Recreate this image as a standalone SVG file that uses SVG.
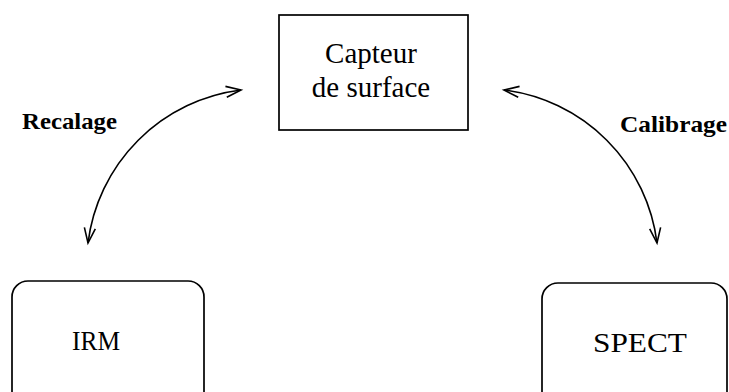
<svg xmlns="http://www.w3.org/2000/svg" width="729" height="392" viewBox="0 0 729 392">
<style>
.box{fill:#fff;stroke:#000;stroke-width:1.7}
.t{font-family:"Liberation Serif","Times New Roman",serif;fill:#000;text-anchor:middle}
.lbl{font-family:"Liberation Serif","Times New Roman",serif;font-weight:bold;fill:#000;font-size:23px}
.arc{fill:none;stroke:#000;stroke-width:1.6;marker-start:url(#v);marker-end:url(#v)}
</style>
<defs>
<marker id="v" markerUnits="userSpaceOnUse" markerWidth="20" markerHeight="16" viewBox="-16 -8 20 16" refX="0" refY="0" orient="auto-start-reverse">
<path d="M -15,-5.5 L 0,0 L -15,5.5" fill="none" stroke="#000" stroke-width="1.6"/>
</marker>
</defs>
<rect width="729" height="392" fill="#fff"/>
<g id="connectors">
<path class="arc" d="M 88,243 A 176 176 0 0 1 241,90"/>
<path class="arc" d="M 504,90 A 176 176 0 0 1 657,243"/>
<text class="lbl" x="22" y="129" textLength="95" lengthAdjust="spacingAndGlyphs">Recalage</text>
<text class="lbl" x="620" y="132" textLength="107" lengthAdjust="spacingAndGlyphs">Calibrage</text>
</g>
<g id="capteur">
<rect class="box" x="279" y="15" width="189" height="115"/>
<text class="t" x="371" y="63" font-size="29">Capteur</text>
<text class="t" x="371" y="97" font-size="29">de surface</text>
</g>
<g id="irm">
<rect class="box" x="12" y="281" width="192" height="140" rx="16"/>
<text class="t" x="96" y="350" font-size="27" textLength="48" lengthAdjust="spacingAndGlyphs">IRM</text>
</g>
<g id="spect">
<rect class="box" x="542" y="283" width="185" height="140" rx="16"/>
<text class="t" x="640" y="352" font-size="28" textLength="94" lengthAdjust="spacingAndGlyphs">SPECT</text>
</g>
</svg>
